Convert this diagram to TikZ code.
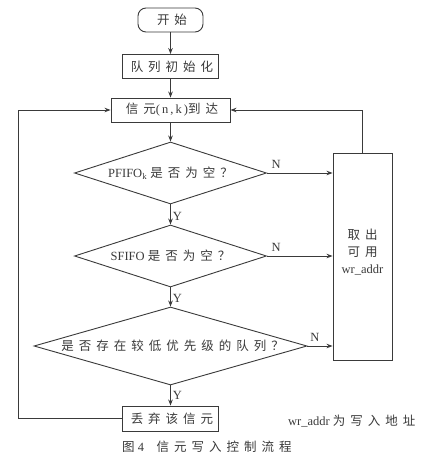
\documentclass[tikz,border=0pt]{standalone}
\usepackage{fontspec}
\setmainfont{Liberation Serif}
\newfontfamily\cjk[LetterSpace=40]{Noto Sans CJK SC}
\newcommand{\zh}[1]{{\cjk #1}}
\usetikzlibrary{shapes.geometric,arrows.meta}
\definecolor{ink}{HTML}{3A3A3A}
\tikzset{
  base/.style={draw=ink, line width=0.9pt, text=ink, inner sep=0pt, font=\fontsize{12.5}{15}\selectfont},
  term/.style={base, rounded corners=8pt, minimum width=65pt, minimum height=24pt},
  proc/.style={base, rectangle, minimum width=96pt, minimum height=24pt},
  dec/.style={base, diamond, aspect=3},
  conn/.style={draw=ink, line width=0.9pt, -{Stealth[length=6pt,width=4.5pt]}},
  lbl/.style={text=ink, inner sep=0pt, font=\fontsize{12.5}{15}\selectfont},
}
\begin{document}
\begin{tikzpicture}[x=1pt,y=-1pt]
\useasboundingbox[fill=white] (0,0) rectangle (437,470);
\node[term] (start) at (170.5,20) {\hspace{3pt}\zh{开始}};
\node[proc] (init) at (170.5,66.5) {\hspace{3pt}\zh{队列初始化}};
\node[proc, minimum width=119pt] (arrive) at (170.5,110) {\hspace{3pt}\zh{信元}(\,n\,,\,k\,)\zh{到达}};
\node[dec, minimum width=192pt, minimum height=62pt] (d1) at (170.5,173) {PFIFO$_{\mathrm{k}}$ \zh{是否为空？}};
\node[dec, minimum width=192pt, minimum height=62pt] (d2) at (170.5,256) {SFIFO \zh{是否为空？}};
\node[dec, aspect=3.5, minimum width=273pt, minimum height=78pt] (d3) at (170.5,346) {\hspace{4pt}\zh{是否存在较低优先级的队列？}};
\node[proc, minimum height=25pt] (drop) at (170.5,418.5) {\hspace{3pt}\zh{丢弃该信元}};
\node[base, rectangle, minimum width=59pt, minimum height=207pt, align=center] (take) at (362.5,256.5) {\zh{取出}\\[2pt]\zh{可用}\\[2pt]wr\_addr\\[-4pt]};
\coordinate (rtop) at (take.north);
\coordinate (rc) at (take.north |- arrive.east);
\coordinate (lb) at (18,418.5);
\coordinate (lt) at (18,110);
\draw[conn] (start) -- (init);
\draw[conn] (init) -- (arrive);
\draw[conn] (arrive) -- (d1);
\draw[conn] (d1) -- node[lbl, pos=0.6, right=2pt] {Y} (d2);
\draw[conn] (d2) -- node[lbl, pos=0.55, right=2pt] {Y} (d3);
\draw[conn] (d3) -- node[lbl, pos=0.5, right=2pt] {Y} (drop);
\draw[conn] (d1.east) -- node[lbl, pos=0.14, above=4pt] {N} (d1.east -| take.west);
\draw[conn] (d2.east) -- node[lbl, pos=0.14, above=4pt] {N} (d2.east -| take.west);
\draw[conn] (d3.east) -- node[lbl, pos=0.3, above=4pt] {N} (d3.east -| take.west);
\draw[conn] (rtop) -- (rc) -- (arrive.east);
\draw[conn] (drop.west) -- (lb) -- (lt) -- (arrive.west);
\node[lbl, anchor=west] (note) at (288,421) {wr\_addr \zh{为写入地址}};
\node[lbl, anchor=west] (cap) at (122,447) {\zh{图}\ 4\quad\zh{信元写入控制流程}};
\end{tikzpicture}
\end{document}
